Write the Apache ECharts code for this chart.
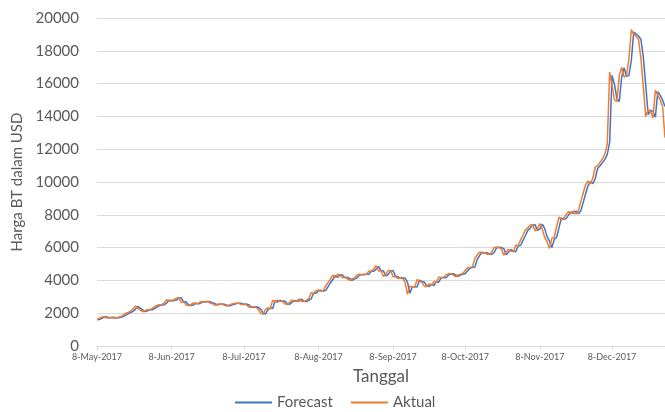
<!DOCTYPE html>
<html>
<head>
<meta charset="utf-8">
<script src="https://cdn.jsdelivr.net/npm/echarts@6/dist/echarts.min.js"></script>
<style>
html,body{margin:0;padding:0;background:#fff;}
#chart{width:665px;height:412px;}
</style>
</head>
<body>
<div id="chart"></div>
<script>
// Daily BTC price (USD), 8-May-2017 .. 30-Dec-2017
const startDate = [2017, 4, 8]; // year, monthIndex, day
const tickLabels = ['8-May-2017','8-Jun-2017','8-Jul-2017','8-Aug-2017','8-Sep-2017','8-Oct-2017','8-Nov-2017','8-Dec-2017'];
const yTicks = { min: 0, max: 20000, interval: 2000 };

const aktual = [
  1600,1700,1760,1800,1700,1720,1760,1700,1720,1760,1800,1900,2000,2050,2120,2270,2440,2300,2190,2090,2160,2230,2200,2300,
  2400,2480,2510,2520,2650,2820,2730,2790,2810,2920,2960,2660,2710,2500,2460,2510,2640,2560,2590,2710,2680,2700,2730,2610,2590,2480,2550,2570,2540,2480,
  2430,2500,2560,2600,2600,2600,2520,2570,2520,2380,2340,2400,2360,2240,2000,1930,2230,2320,2280,2800,2670,2800,2730,2750,2580,2530,2670,2800,2720,2750,2870,
  2720,2710,2800,2890,3250,3210,3370,3420,3340,3380,3650,3880,4070,4320,4180,4370,4330,4160,4190,4090,4000,4100,4150,4330,4370,4350,4380,4380,4580,4560,4700,
  4890,4580,4580,4240,4380,4600,4600,4230,4230,4120,4160,4130,3880,3150,3640,3620,3580,4060,3920,3900,3630,3630,3790,3680,3930,3890,4200,4170,4160,4340,
  4400,4410,4320,4230,4330,4370,4430,4610,4770,4780,4830,5330,5560,5740,5650,5710,5600,5590,5710,6010,6030,6010,5930,5530,5750,5900,5780,5750,6150,6130,6470,
  6770,7080,7210,7380,7410,7020,7140,7460,7140,6620,6360,5950,6560,6640,7320,7870,7710,7790,8040,8200,8070,8250,8040,8250,8790,9330,9820,10060,9890,10230,
  10900,11000,11200,11400,11700,12300,16700,15900,15000,14900,16500,17000,16400,16500,17500,19300,19000,18900,18700,17500,15800,14000,14400,14300,13900,15600,15300,15000,14600,12700
];

const forecast = [
  1620,1610,1690,1750,1790,1710,1720,1750,1710,1720,1750,1790,1890,1980,2040,2110,2250,2420,2310,2200,2100,2150,2220,2210,
  2290,2390,2470,2500,2520,2630,2800,2740,2780,2800,2910,2950,2680,2700,2520,2470,2500,2620,2570,2590,2700,2680,2700,2720,2620,2590,2490,2540,2560,2540,
  2490,2440,2490,2550,2590,2600,2600,2530,2560,2520,2390,2340,2390,2360,2250,2020,1950,2210,2310,2290,2760,2680,2790,2730,2740,2590,2540,2660,2780,2730,2750,
  2860,2730,2710,2790,2880,3220,3220,3350,3410,3350,3380,3620,3860,4050,4290,4190,4350,4330,4180,4190,4100,4010,4090,4140,4310,4360,4350,4370,4380,4560,4560,
  4690,4860,4600,4580,4270,4370,4580,4600,4260,4230,4130,4160,4130,3900,3220,3610,3620,3590,4020,3930,3900,3660,3630,3770,3690,3910,3890,4170,4170,4160,
  4320,4390,4410,4330,4240,4320,4370,4420,4590,4750,4780,4820,5280,5530,5720,5660,5700,5610,5590,5700,5980,6020,6010,5940,5570,5730,5880,5790,5750,6110,6130,
  6440,6740,7050,7200,7360,7400,7050,7130,7430,7170,6670,6390,6000,6500,6630,7250,7820,7720,7780,8010,8180,8080,8230,8060,8230,8740,9280,9770,10030,9900,
  10200,10830,10990,11180,11380,11670,12400,16500,15950,15100,14900,16400,16950,16450,16500,17400,19150,19020,18900,18700,17600,15900,14100,14380,14300,13950,15500,15300,15000,14600
];

const MONTHS = ['Jan','Feb','Mar','Apr','May','Jun','Jul','Aug','Sep','Oct','Nov','Dec'];
const dates = aktual.map((_, i) => {
  const d = new Date(Date.UTC(startDate[0], startDate[1], startDate[2] + i));
  return d.getUTCDate() + '-' + MONTHS[d.getUTCMonth()] + '-' + d.getUTCFullYear();
});

const showTick = (idx, val) => tickLabels.indexOf(val) >= 0;
const txt = '#595959';
const font = 'Lato, "Open Sans", sans-serif';

const chart = echarts.init(document.getElementById('chart'), null, {renderer: 'canvas'});
chart.setOption({
  animation: false,
  backgroundColor: '#ffffff',
  textStyle: { fontFamily: font },
  grid: { left: 97, right: 0, top: 18, bottom: 66 },
  legend: {
    left: 235, top: 395, padding: 0,
    itemWidth: 37, itemHeight: 2, itemGap: 18,
    icon: 'rect',
    textStyle: { color: txt, fontSize: 15, fontFamily: font },
    data: ['Forecast', 'Aktual']
  },
  xAxis: {
    type: 'category',
    data: dates,
    boundaryGap: false,
    name: 'Tanggal',
    nameLocation: 'middle',
    nameGap: 22,
    nameTextStyle: { color: txt, fontSize: 17, fontFamily: font },
    axisLine: { lineStyle: { color: '#d9d9d9', width: 1 } },
    axisTick: { show: true, interval: showTick, length: 4, lineStyle: { color: '#d9d9d9' } },
    axisLabel: { interval: showTick, color: txt, fontSize: 9, fontFamily: font, margin: 7 },
    splitLine: { show: false }
  },
  yAxis: {
    type: 'value',
    min: yTicks.min, max: yTicks.max, interval: yTicks.interval,
    name: 'Harga BT dalam USD',
    nameLocation: 'middle',
    nameRotate: 90,
    nameGap: 68,
    nameTextStyle: { color: txt, fontSize: 15, fontFamily: font },
    axisLine: { show: false },
    axisTick: { show: false },
    axisLabel: { color: txt, fontSize: 15, fontFamily: font, margin: 18, formatter: v => String(v) },
    splitLine: { lineStyle: { color: '#d9d9d9', width: 1 } }
  },
  series: [
    { name: 'Forecast', type: 'line', data: forecast, showSymbol: false, symbol: 'none',
      lineStyle: { color: '#4472C4', width: 1.5 }, itemStyle: { color: '#4472C4' } },
    { name: 'Aktual', type: 'line', data: aktual, showSymbol: false, symbol: 'none',
      lineStyle: { color: '#ED7D31', width: 1.5 }, itemStyle: { color: '#ED7D31' } }
  ]
});
</script>
</body>
</html>
